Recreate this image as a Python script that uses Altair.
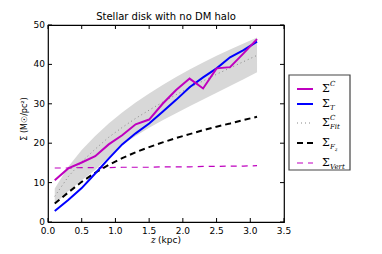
import altair as alt
import pandas as pd

# ---- data ----
z = [0.1, 0.3, 0.5, 0.7, 0.9, 1.1, 1.3, 1.5, 1.7, 1.9, 2.1, 2.3, 2.5, 2.7, 2.9, 3.1]
sigma_c = [10.6, 13.6, 15.1, 16.7, 19.7, 22.0, 24.8, 26.0, 30.0, 33.5, 36.4, 33.9, 39.0, 39.3, 42.8, 46.4]
sigma_t = [2.8, 5.6, 8.6, 12.3, 16.1, 19.7, 22.5, 25.0, 28.0, 31.0, 34.2, 36.7, 39.0, 41.8, 43.6, 45.8]
sigma_fit = [6.5, 11.5, 15.3, 18.5, 21.5, 24.0, 26.3, 28.4, 30.4, 32.3, 34.1, 35.8, 37.5, 39.1, 40.7, 42.3]
fit_hi = [8.5, 14.0, 18.3, 21.8, 25.0, 27.8, 30.3, 32.6, 34.8, 36.8, 38.7, 40.5, 42.2, 43.8, 45.3, 46.8]
fit_lo = [4.5, 7.8, 10.6, 13.2, 16.5, 19.6, 21.8, 23.9, 25.8, 27.6, 29.4, 31.1, 32.8, 34.5, 36.2, 38.0]
sigma_fz = [4.7, 7.5, 10.2, 12.5, 14.5, 16.2, 17.7, 19.0, 20.2, 21.3, 22.3, 23.3, 24.2, 25.0, 25.9, 26.7]
sigma_vert = [13.7, 13.7, 13.8, 13.8, 13.8, 13.9, 13.9, 13.9, 14.0, 14.0, 14.0, 14.1, 14.1, 14.2, 14.2, 14.3]
x_ticks = [0.0, 0.5, 1.0, 1.5, 2.0, 2.5, 3.0, 3.5]
y_ticks = [0, 10, 20, 30, 40, 50]
TITLE = "Stellar disk with no DM halo"

MAG = "#bf00bf"
BLUE = "#0000ff"

df = pd.DataFrame({"z": z, "c": sigma_c, "t": sigma_t, "fit": sigma_fit,
                   "lo": fit_lo, "hi": fit_hi, "fz": sigma_fz, "vert": sigma_vert})
xt = pd.DataFrame({"v": x_ticks})
yt = pd.DataFrame({"v": y_ticks})
one = pd.DataFrame({"a": [0]})

W, H = 236, 197
xs = alt.Scale(domain=[0, 3.5], nice=False, zero=False)
ys = alt.Scale(domain=[0, 50], nice=False)

def X(f):
    return alt.X(f"{f}:Q", scale=xs, axis=None)

def Y(f):
    return alt.Y(f"{f}:Q", scale=ys, axis=None)

base = alt.Chart(df)

band = base.mark_area(color="#d8d8d8", opacity=1).encode(x=X("z"), y=Y("lo"), y2="hi:Q")

def line(field, color, width, dash=None):
    kw = dict(color=color, strokeWidth=width, clip=True)
    if dash:
        kw["strokeDash"] = dash
    return base.mark_line(**kw).encode(x=X("z"), y=Y(field))

l_fit = line("fit", "#888888", 1, [1, 3])
l_vert = line("vert", MAG, 1.2, [6, 5])
l_fz = line("fz", "black", 2, [6, 4])
l_t = line("t", BLUE, 2)
l_c = line("c", MAG, 2)

# inward ticks on all four sides
tk = 4
xt_bot = alt.Chart(xt).mark_rule(color="black").encode(x=X("v"), y=alt.value(H), y2=alt.value(H - tk))
xt_top = alt.Chart(xt).mark_rule(color="black").encode(x=X("v"), y=alt.value(0), y2=alt.value(tk))
yt_l = alt.Chart(yt).mark_rule(color="black").encode(y=Y("v"), x=alt.value(0), x2=alt.value(tk))
yt_r = alt.Chart(yt).mark_rule(color="black").encode(y=Y("v"), x=alt.value(W), x2=alt.value(W - tk))

# tick labels
xl = alt.Chart(xt).mark_text(align="center", baseline="top", fontSize=9, font="DejaVu Sans",
                             color="black").encode(
    x=X("v"), y=alt.value(H + 5), text=alt.Text("v:Q", format=".1f"))
yl = alt.Chart(yt).mark_text(align="right", baseline="middle", fontSize=9, font="DejaVu Sans",
                             color="black").encode(
    y=Y("v"), x=alt.value(-3), text=alt.Text("v:Q", format="d"))

def txt(s, x, y, size, italic=False, font="DejaVu Serif", angle=0, align="left",
        baseline="middle"):
    kw = dict(text=s, align=align, baseline=baseline, fontSize=size, font=font, color="black",
              fontStyle="italic" if italic else "normal")
    if angle:
        kw["angle"] = angle
    return alt.Chart(one).mark_text(**kw).encode(x=alt.value(x), y=alt.value(y))

# chart title and axis titles
titles = [
    txt(TITLE, W / 2, -5, 10, False, "DejaVu Sans", align="center", baseline="alphabetic"),
    txt("z", 103, H + 18, 9, True),
    txt("(kpc)", 110, H + 18, 9, False, "DejaVu Sans"),
    txt("Σ (M☉/pc²)", -23, 94, 8, False, "DejaVu Sans", angle=270, align="center"),
]

# custom legend
box = alt.Chart(one).mark_rect(fill="white", stroke="#444444", strokeWidth=1.2).encode(
    x=alt.value(241), x2=alt.value(302), y=alt.value(50), y2=alt.value(145))

rows = [64, 79, 98, 118, 138]
styles = [(MAG, 2, None), (BLUE, 2, None), ("#888888", 1, [1, 3]),
          ("black", 2, [6, 4]), (MAG, 1.2, [6, 5])]
leg_layers = [box]
for r, (col, w, d) in zip(rows, styles):
    kw = dict(color=col, strokeWidth=w)
    if d:
        kw["strokeDash"] = d
    leg_layers.append(alt.Chart(one).mark_rule(**kw).encode(
        x=alt.value(249), x2=alt.value(265), y=alt.value(r)))

for r in rows:
    leg_layers.append(txt("Σ", 274, r, 11))
leg_layers += [
    txt("C", 282, rows[0] - 5, 7, True),
    txt("T", 282, rows[1] + 4, 7, True),
    txt("C", 282, rows[2] - 5, 7, True),
    txt("Fit", 282, rows[2] + 4, 7, True),
    txt("F", 282, rows[3] + 4, 7, True),
    txt("z", 287, rows[3] + 6, 5, True),
    txt("Vert", 282, rows[4] + 4, 7, True),
]

chart = alt.layer(band, l_fit, l_vert, l_fz, l_t, l_c,
                  xt_bot, xt_top, yt_l, yt_r, xl, yl, *titles, *leg_layers).properties(
    width=W, height=H,
    autosize=alt.AutoSizeParams(type="none"),
    padding={"left": 40, "top": 17, "right": 90, "bottom": 24},
).configure_view(stroke="black", strokeWidth=1.2)

chart.save("out.html", embed_options={"renderer": "svg", "actions": False})
